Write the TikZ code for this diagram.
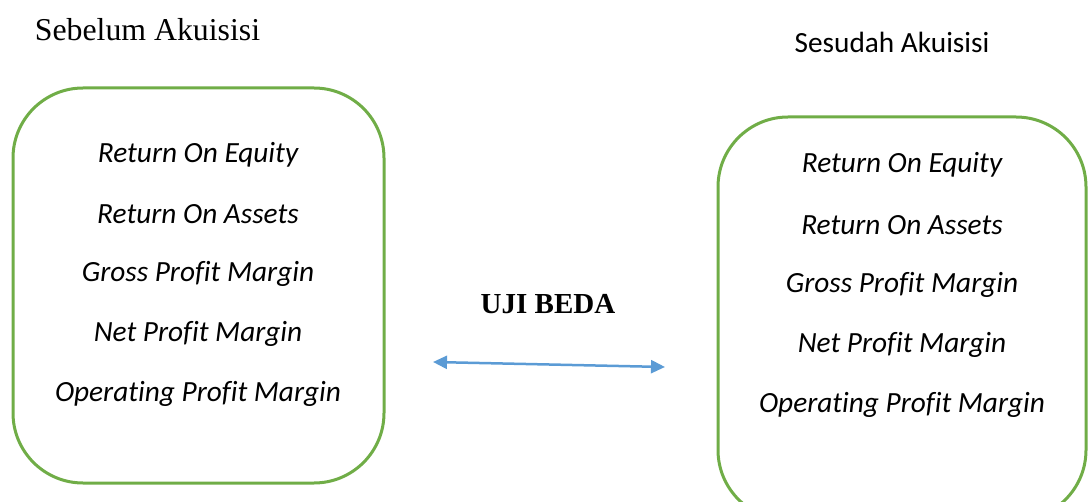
\documentclass[tikz,border=0pt]{standalone}
\usepackage{fontspec}
\setmainfont{Liberation Serif}
\newfontfamily\calib[Ligatures={NoCommon}]{Carlito}
\usetikzlibrary{arrows.meta}
\definecolor{boxgreen}{HTML}{70AD47}
\definecolor{arrowblue}{HTML}{5B9BD5}
\begin{document}
\begin{tikzpicture}[x=1pt,y=-1pt,
  roundbox/.style={draw=boxgreen,line width=3pt,rounded corners=70pt},
  item/.style={font=\calib\itshape\fontsize{29.3}{34}\selectfont,inner sep=0pt,anchor=center},
  link/.style={draw=arrowblue,line width=2.5pt,{Triangle[length=14pt,width=13pt]}-{Triangle[length=14pt,width=13pt]}}]
\useasboundingbox (0,0) rectangle (1092,502);
\begin{scope}
\clip (0,0) rectangle (1092,502);
\draw[roundbox] (13,88) rectangle (384,483);
\draw[roundbox] (718,117) rectangle (1086,520);
\end{scope}
\node[font=\fontsize{31.8}{36}\selectfont,anchor=center,inner sep=0pt] (t1) at (147.5,30) {Sebelum Akuisisi};
\node[font=\calib\fontsize{29.3}{34}\selectfont,anchor=center,inner sep=0pt] (t2) at (892,42) {Sesudah Akuisisi};
\node[item] (a1) at (198,155) {Return On Equity};
\node[item] (a2) at (198,214) {Return On Assets};
\node[item] (a3) at (198,274) {Gross Profit Margin};
\node[item] (a4) at (198,334) {Net Profit Margin};
\node[item] (a5) at (198,394) {Operating Profit Margin};
\node[item] (b1) at (902,165) {Return On Equity};
\node[item] (b2) at (902,225) {Return On Assets};
\node[item] (b3) at (902,285) {Gross Profit Margin};
\node[item] (b4) at (902,345) {Net Profit Margin};
\node[item] (b5) at (902,405) {Operating Profit Margin};
\node[font=\bfseries\fontsize{29}{34}\selectfont,anchor=center,inner sep=0pt] (uji) at (548,304) {UJI BEDA};
\coordinate (l) at (433,362);
\coordinate (r) at (665,367);
\draw[link] (l) -- (r);
\end{tikzpicture}
\end{document}
